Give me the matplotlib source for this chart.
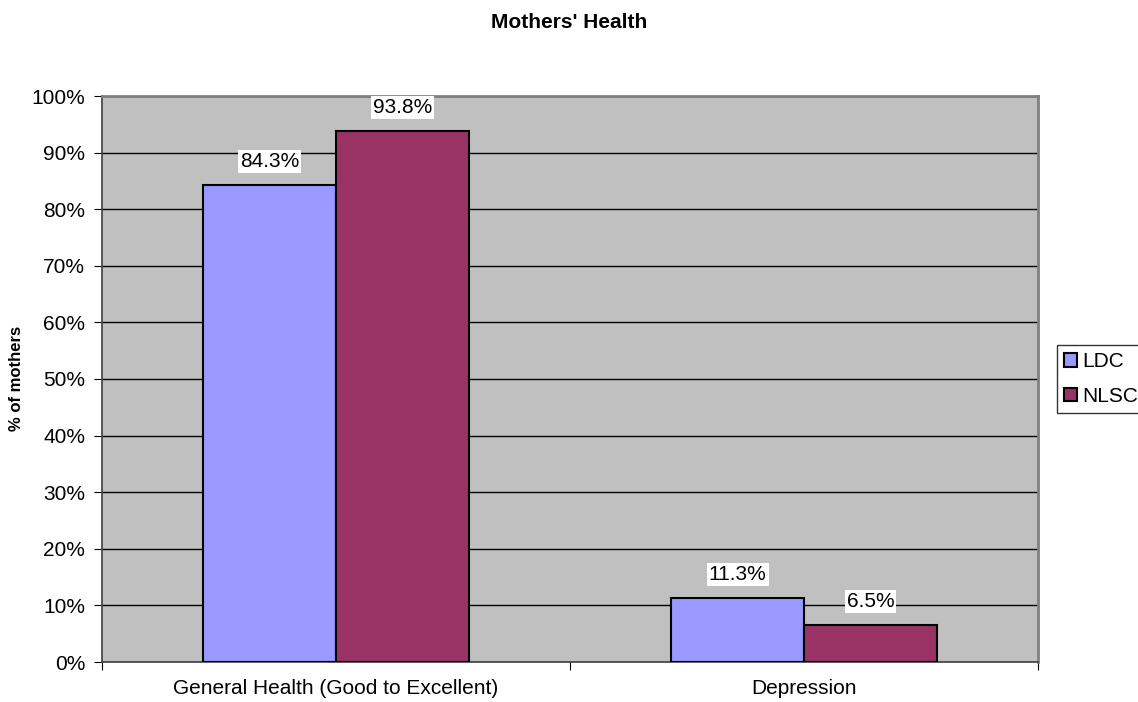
import matplotlib
matplotlib.use("Agg")
import matplotlib.pyplot as plt
import numpy as np

categories = ["General Health (Good to Excellent)", "Depression"]
series_names = ["LDC", "NLSC"]
ldc = [84.3, 11.3]
nlsc = [93.8, 6.5]
colors = ["#9999FF", "#993366"]

plt.rcParams['font.family'] = ['Liberation Sans', 'DejaVu Sans']
fig = plt.figure(figsize=(11.38, 7.02), dpi=100)
ax = fig.add_axes([102/1138, 40/702, 936/1138, 566/702])
ax.set_facecolor("#C0C0C0")

x = np.arange(len(categories))
w = 0.284
b1 = ax.bar(x - w/2, ldc, w, color=colors[0], edgecolor="black", linewidth=1.5, label=series_names[0], zorder=3)
b2 = ax.bar(x + w/2, nlsc, w, color=colors[1], edgecolor="black", linewidth=1.5, label=series_names[1], zorder=3)

for bars, vals in ((b1, ldc), (b2, nlsc)):
    for r, v in zip(bars, vals):
        ax.text(r.get_x() + r.get_width()/2, v + 4.2, f"{v:.1f}%", ha="center", va="center",
                fontsize=15, zorder=5,
                bbox=dict(facecolor="white", edgecolor="none", pad=1.5))

ax.set_xlim(-0.5, 1.5)
ax.set_ylim(0, 100)
ax.set_yticks(np.arange(0, 101, 10))
ax.set_yticklabels([f"{t}%" for t in range(0, 101, 10)], fontsize=15)
ax.yaxis.grid(True, color="black", linewidth=1, zorder=1)
ax.set_axisbelow(True)

ax.set_xticks([-0.5, 0.5, 1.5])
ax.set_xticklabels([])
ax.set_xticks(x, minor=True)
ax.set_xticklabels(categories, minor=True, fontsize=15)
ax.tick_params(axis="x", which="minor", length=0, pad=12)
ax.tick_params(axis="x", which="major", length=6, direction="out", color="black")
ax.tick_params(axis="y", length=6, direction="out", color="black", pad=6)

for s in ["top", "right"]:
    ax.spines[s].set_color("#808080")
    ax.spines[s].set_linewidth(2)
for s in ["left", "bottom"]:
    ax.spines[s].set_color("#404040")
    ax.spines[s].set_linewidth(1.2)

fig.text(569/1138, 1 - 22/702, "Mothers' Health", ha="center", va="center", fontsize=15, fontweight="bold")
fig.text(17/1138, 1 - 378/702, "% of mothers", ha="center", va="center", rotation=90, fontsize=12, fontweight="bold")

leg = fig.legend(handles=[b1, b2], labels=series_names, loc="upper left",
                 bbox_to_anchor=(1057/1138, 1 - 345/702), fontsize=15,
                 frameon=True, fancybox=False, shadow=False, handlelength=0.62, handleheight=0.62,
                 handletextpad=0.25, borderpad=0.35, labelspacing=0.74, borderaxespad=0)
leg.get_frame().set_edgecolor("black")
leg.get_frame().set_linewidth(1)

fig.savefig("out.png", dpi=100)
